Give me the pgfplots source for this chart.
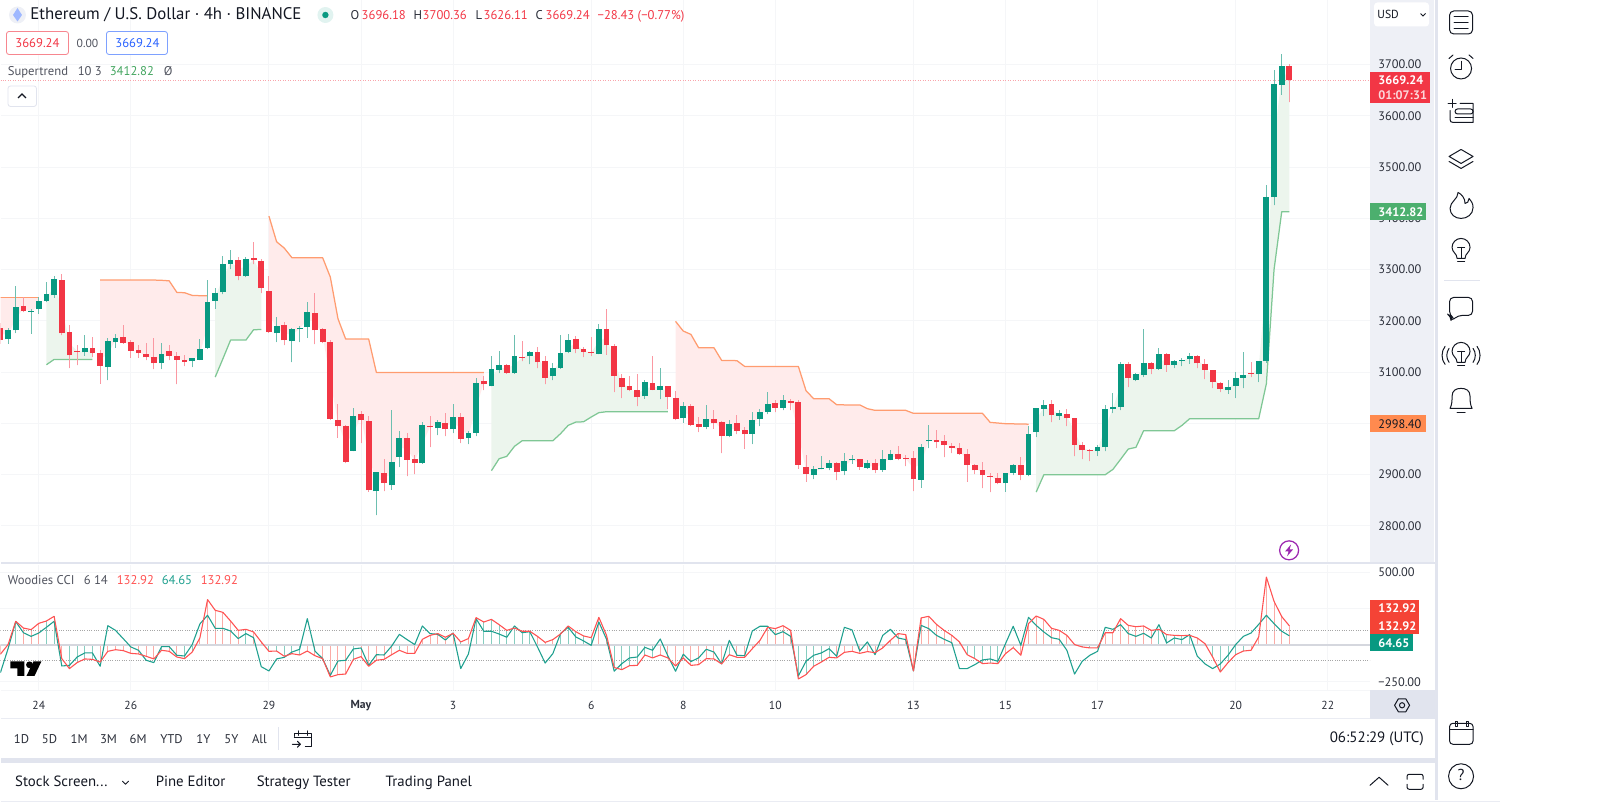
\documentclass[border=0pt]{standalone}
\usepackage{pgfplots}
\pgfplotsset{compat=1.18}
\usepackage{pgfplotstable}
\usepgfplotslibrary{fillbetween}
\usepackage{fontspec}
\setmainfont{PT Sans}
\definecolor{cup}{HTML}{089981}
\definecolor{cdn}{HTML}{F23645}
\definecolor{wup}{HTML}{6DBFB0}
\definecolor{wdn}{HTML}{FB98A2}
\definecolor{stdn}{HTML}{FF9C70}
\definecolor{stup}{HTML}{7FC795}
\definecolor{fdn}{HTML}{FFEBEB}
\definecolor{fup}{HTML}{ECF5ED}
\definecolor{gridc}{HTML}{F5F6F8}
\definecolor{panel}{HTML}{EEF0F6}
\definecolor{strip}{HTML}{E1E4EE}
\definecolor{ink}{HTML}{131722}
\definecolor{txt}{HTML}{2A2E39}
\definecolor{gtxt}{HTML}{50535E}
\definecolor{ccir}{HTML}{FF5252}
\definecolor{ccig}{HTML}{1FA08F}
\definecolor{histr}{HTML}{FBABA6}
\definecolor{histg}{HTML}{86CDC0}
\definecolor{zeroc}{HTML}{D5D7DE}
\definecolor{lgreen}{HTML}{43A55F}
\definecolor{tagg}{HTML}{4CAF6E}
\definecolor{tago}{HTML}{FF8A4F}
\definecolor{tagr}{HTML}{F44336}
\definecolor{purp}{HTML}{9C27B0}
\definecolor{blueb}{HTML}{2962FF}
% i top bot hi lo  (body top, body bottom, wick high, wick low)
\pgfplotstableread{
i top bot hi lo
1 3181.3 3163.8 3185.9 3155.3
2 3226.8 3181.3 3267.1 3176.1
4 3219.7 3217.0 3223.6 3174.8
5 3238.5 3222.3 3246.3 3213.8
6 3251.5 3238.5 3276.2 3236.6
7 3282.0 3249.6 3287.9 3245.0
11 3146.9 3138.4 3171.6 3131.9
14 3159.8 3109.8 3167.0 3083.8
15 3165.7 3159.2 3173.5 3147.5
21 3135.2 3117.0 3157.3 3105.9
25 3126.7 3120.9 3126.7 3109.8
26 3144.3 3124.1 3165.0 3122.8
27 3235.9 3147.5 3278.8 3144.3
28 3254.8 3238.5 3263.9 3223.6
29 3310.0 3255.4 3326.9 3251.5
30 3317.8 3310.0 3337.3 3300.3
32 3321.0 3286.6 3324.3 3285.3
36 3190.4 3175.5 3207.3 3158.5
38 3184.5 3159.8 3186.5 3118.9
39 3186.5 3183.3 3189.1 3158.5
40 3216.4 3187.8 3235.9 3167.0
46 3014.9 2946.6 3029.8 2945.4
49 2904.4 2867.3 2904.4 2820.6
51 2925.2 2879.0 3025.3 2870.6
52 2971.4 2934.3 2984.3 2914.8
55 2997.4 2922.0 3002.5 2921.3
57 3003.2 2990.2 3007.1 2976.6
59 3013.0 2988.9 3038.3 2981.1
61 2981.1 2971.4 2984.3 2959.0
62 3079.2 2981.1 3088.4 2974.6
64 3105.2 3072.1 3130.6 3072.1
65 3113.0 3104.6 3140.3 3098.1
67 3131.9 3097.4 3172.9 3096.8
69 3139.7 3130.6 3141.0 3115.0
72 3108.5 3091.6 3117.6 3083.8
73 3137.1 3108.5 3171.6 3106.6
74 3161.8 3138.4 3174.8 3137.1
78 3183.2 3135.8 3194.3 3134.5
84 3080.5 3052.6 3083.8 3048.1
86 3072.1 3065.6 3107.9 3046.8
89 3033.8 3009.7 3040.9 3000.8
92 3009.0 2993.5 3035.0 2988.3
95 2998.0 2974.6 3005.8 2973.3
98 3005.8 2979.8 3022.0 2959.7
99 3022.7 3009.0 3028.6 2994.1
100 3037.0 3022.0 3061.7 3017.5
102 3044.8 3030.5 3055.9 3025.3
106 2910.3 2899.2 2916.1 2890.7
107 2912.2 2910.3 2936.2 2910.3
108 2922.0 2912.9 2927.8 2908.3
110 2925.9 2906.4 2942.1 2899.2
111 2931.1 2927.8 2938.2 2921.3
113 2922.0 2912.9 2927.8 2911.6
115 2929.8 2909.6 2947.3 2905.7
116 2939.5 2929.1 2947.3 2927.8
120 2954.5 2890.1 2959.0 2874.5
121 2966.8 2964.9 2997.4 2951.2
131 2903.8 2883.0 2903.8 2866.7
132 2918.7 2903.8 2921.3 2899.2
134 2979.8 2899.2 2994.1 2896.6
135 3029.2 2982.4 3030.5 2973.3
136 3035.0 3028.6 3046.1 3014.2
138 3019.4 3014.9 3025.3 3007.1
143 2953.2 2946.0 2957.0 2936.2
144 3027.2 2953.2 3035.0 2945.4
145 3032.4 3027.2 3059.1 3020.1
146 3115.0 3032.4 3119.6 3025.3
148 3095.5 3084.5 3098.1 3082.5
149 3117.6 3094.2 3184.5 3090.3
151 3135.8 3105.9 3147.5 3104.6
153 3121.5 3113.7 3122.8 3107.9
154 3124.1 3120.9 3128.0 3111.1
155 3131.9 3124.8 3137.1 3116.3
160 3071.4 3065.0 3083.8 3057.8
161 3088.4 3072.8 3100.1 3049.4
162 3094.2 3089.0 3139.7 3068.2
164 3120.9 3096.2 3120.9 3080.6
165 3441.3 3120.9 3465.3 3118.0
166 3661.0 3441.3 3690.2 3425.0
167 3696.8 3659.7 3719.5 3640.9
}\upc
\pgfplotstableread{
i top bot hi lo
0 3186.5 3161.8 3195.6 3155.3
3 3229.4 3219.0 3245.7 3217.0
8 3280.1 3175.5 3291.8 3171.6
9 3178.7 3132.6 3192.4 3107.9
10 3141.7 3140.3 3152.0 3113.0
12 3146.9 3137.1 3168.3 3129.3
13 3137.1 3112.4 3143.6 3077.3
16 3167.7 3156.6 3192.4 3155.3
17 3157.9 3141.7 3163.1 3128.0
18 3142.3 3136.5 3153.4 3128.0
19 3135.8 3128.7 3156.6 3122.8
20 3129.3 3117.0 3166.4 3105.3
22 3140.3 3131.2 3153.4 3123.5
23 3131.9 3124.1 3139.0 3076.0
24 3122.8 3120.2 3132.6 3111.8
31 3318.5 3286.6 3324.3 3278.8
33 3321.7 3317.8 3354.2 3310.0
34 3315.9 3263.9 3319.8 3254.1
35 3258.0 3178.0 3286.6 3176.8
37 3191.0 3161.8 3197.6 3152.0
41 3214.5 3181.3 3253.5 3154.0
42 3183.3 3158.5 3185.9 3156.6
43 3158.6 3009.0 3163.1 3007.1
44 3007.1 2994.1 3037.0 2972.0
45 2994.1 2925.2 2997.4 2922.6
47 3017.5 3005.8 3024.0 2961.6
48 3005.2 2869.3 3013.6 2866.7
50 2902.4 2883.6 2931.0 2867.3
53 2970.7 2928.5 2981.7 2896.6
54 2929.8 2923.3 2938.9 2900.5
56 2994.1 2992.8 3013.6 2953.8
58 3000.0 2988.9 3020.8 2974.6
60 3011.6 2970.0 3020.1 2961.6
63 3081.9 3076.0 3092.9 3064.3
66 3114.4 3098.7 3115.0 3096.8
68 3128.6 3127.4 3159.9 3120.9
70 3139.7 3118.9 3148.2 3107.2
71 3122.2 3089.0 3130.6 3076.0
75 3163.8 3144.9 3169.6 3137.1
76 3144.3 3139.7 3148.8 3129.3
77 3139.7 3137.1 3168.3 3131.2
79 3183.2 3152.0 3222.2 3133.9
80 3151.4 3092.9 3155.3 3061.0
81 3087.7 3070.2 3096.8 3049.3
82 3072.1 3064.3 3091.6 3063.0
83 3065.0 3050.6 3096.8 3033.1
85 3079.3 3065.6 3130.6 3064.3
87 3073.4 3051.3 3073.4 3028.6
88 3050.0 3007.8 3063.0 3006.5
90 3033.1 2996.7 3038.3 2995.4
91 2998.0 2993.5 3012.3 2983.1
93 3009.0 2999.9 3025.3 2989.6
94 3001.9 2975.3 3004.5 2941.4
96 2999.9 2985.0 3015.6 2978.5
97 2987.6 2978.5 2992.8 2950.6
101 3039.6 3030.5 3046.1 3021.4
103 3044.2 3039.6 3047.4 3025.3
104 3040.9 2919.4 3046.1 2911.6
105 2914.8 2901.2 2938.9 2886.2
109 2923.3 2904.4 2924.5 2888.8
112 2931.1 2914.8 2931.1 2909.6
114 2922.6 2908.3 2931.1 2903.1
117 2939.5 2930.4 2956.4 2927.8
118 2931.7 2930.4 2938.9 2916.1
119 2933.0 2891.4 2945.4 2868.0
122 2968.1 2962.9 2986.3 2951.9
123 2966.2 2957.7 2977.9 2933.6
124 2955.8 2952.5 2961.6 2941.4
125 2951.2 2939.5 2961.6 2938.9
126 2940.8 2919.4 2949.3 2886.2
127 2918.7 2908.3 2921.3 2900.5
128 2908.3 2899.2 2923.9 2873.2
129 2897.9 2895.3 2903.1 2865.4
130 2893.4 2883.0 2903.1 2881.0
133 2918.1 2899.2 2934.3 2888.8
137 3037.0 3016.2 3044.8 3001.9
139 3017.5 3009.7 3028.6 2994.8
140 3009.7 2958.4 3011.0 2935.6
141 2957.7 2947.3 2962.9 2930.4
142 2948.0 2946.0 2949.3 2926.5
147 3115.6 3089.0 3119.6 3070.8
150 3117.6 3105.2 3120.2 3096.2
152 3135.8 3113.0 3137.8 3100.7
156 3131.2 3116.9 3132.5 3107.2
157 3116.3 3104.6 3124.8 3085.7
158 3104.0 3080.6 3104.6 3068.8
159 3079.2 3066.9 3079.9 3061.0
163 3097.4 3095.5 3118.9 3090.3
168 3696.18 3669.24 3700.36 3626.11
}\dnc
% supertrend segments: i, line value, body midpoint
\pgfplotstableread{
i st m
0 3245.6 3174
1 3245.6 3173
2 3245.6 3204
3 3245.6 3224
4 3245.6 3218
5 3245.6 3230
}\rone
\pgfplotstableread{
i st m
6 3114.3 3245
7 3124.7 3266
8 3124.7 3228
9 3124.7 3156
10 3124.7 3141
11 3124.7 3143
12 3124.7 3142
}\gone
\pgfplotstableread{
i st m
13 3279.5 3125
14 3279.5 3135
15 3279.5 3162
16 3279.5 3162
17 3279.5 3150
18 3279.5 3139
19 3279.5 3132
20 3279.5 3123
21 3279.0 3126
22 3278.0 3136
23 3255.4 3128
24 3254.8 3121
25 3249.6 3124
26 3249.0 3134
27 3249.0 3192
}\rtwo
\pgfplotstableread{
i st m
28 3090.3 3247
29 3126.0 3283
30 3162.4 3314
31 3162.4 3303
32 3162.4 3304
33 3182.6 3320
34 3183.0 3290
}\gtwo
\pgfplotstableread{
i st m
35 3404.2 3218
36 3354.2 3183
37 3341.8 3176
38 3323.0 3172
39 3323.0 3185
40 3323.0 3202
41 3323.0 3198
42 3323.0 3171
43 3285.3 3084
44 3204.0 3001
45 3164.4 2960
46 3164.4 2981
47 3164.4 3012
48 3164.4 2937
49 3099.4 2886
50 3099.4 2893
51 3099.4 2902
52 3099.4 2953
53 3099.4 2950
54 3099.4 2927
55 3099.4 2960
56 3099.4 2993
57 3099.4 2997
58 3099.4 2994
59 3099.4 3001
60 3099.4 2991
61 3099.4 2976
62 3099.4 3030
63 3099.4 3079
}\rthree
\pgfplotstableread{
i st m
64 2907.6 3089
65 2931.0 3109
66 2935.6 3107
67 2955.1 3115
68 2966.0 3128
69 2966.0 3135
70 2966.0 3129
71 2966.0 3106
72 2966.0 3100
73 2979.8 3123
74 2996.0 3150
75 3002.5 3154
76 3003.0 3142
77 3012.3 3138
78 3020.8 3160
79 3022.7 3168
80 3022.7 3122
81 3022.7 3079
82 3022.7 3068
83 3022.7 3058
84 3022.7 3067
85 3022.7 3072
86 3022.7 3069
87 3022.7 3062
}\gthree
\pgfplotstableread{
i st m
88 3198.9 3029
89 3180.0 3022
90 3173.5 3015
91 3147.5 2996
92 3147.5 3001
93 3147.5 3004
94 3122.8 2989
95 3122.8 2986
96 3122.2 2992
97 3111.1 2983
98 3111.1 2993
99 3111.1 3016
100 3111.1 3030
101 3111.1 3035
102 3111.1 3038
103 3111.1 3042
104 3111.1 2980
105 3063.7 2908
106 3048.0 2905
107 3048.0 2911
108 3048.0 2917
109 3036.3 2914
110 3036.0 2916
111 3036.0 2929
112 3036.0 2923
113 3028.6 2917
114 3025.3 2915
115 3025.3 2920
116 3025.3 2934
117 3025.3 2935
118 3025.3 2931
119 3019.5 2912
120 3019.5 2922
121 3019.5 2966
122 3019.5 2965
123 3019.5 2962
124 3019.5 2954
125 3019.5 2945
126 3019.5 2930
127 3019.5 2913
128 3019.5 2904
129 3001.9 2897
130 3000.6 2888
131 2999.3 2893
132 2999.0 2911
133 2998.7 2909
134 2998.4 2940
}\rfour
\pgfplotstableread{
i st m
135 2866.0 3006
136 2899.8 3032
137 2899.8 3027
138 2899.8 3017
139 2899.8 3014
140 2899.8 2984
141 2899.8 2953
142 2899.8 2947
143 2899.8 2950
144 2899.8 2990
145 2910.2 3030
146 2929.8 3074
147 2949.9 3102
148 2953.2 3090
149 2985.6 3106
150 2985.6 3111
151 2985.6 3121
152 2985.6 3124
153 2985.6 3118
154 2996.0 3122
155 3009.0 3128
156 3009.0 3124
157 3009.0 3110
158 3009.0 3092
159 3009.0 3073
160 3009.0 3068
161 3009.0 3081
162 3009.0 3092
163 3009.0 3096
164 3009.0 3109
165 3077.3 3281
166 3300.0 3551
167 3412.82 3678
168 3412.82 3683
}\gfour
% Woodies CCI: i, cci line (and histogram), turbo line, histogram colour flag
\pgfplotstableread{
i r g k
0 -61 -187 0
1 5 -23 0
2 164 162 1
3 118 86 0
4 107 61 0
5 150 84 0
6 166 123 1
7 198 164 1
8 -91 -141 0
9 -159 -137 1
10 -118 -80 1
11 -93 -52 1
12 -96 -52 1
13 -114 -143 0
14 -41 134 0
15 -30 102 0
16 -36 46 0
17 -55 -11 0
18 -59 -34 0
19 -75 -102 0
20 -93 -118 0
21 -34 -9 1
22 -41 -9 0
23 -80 -68 0
24 -91 -73 1
25 -46 5 1
26 50 146 0
27 312 205 0
28 239 116 0
29 225 116 0
30 166 98 0
31 102 46 0
32 109 80 1
33 91 52 0
34 23 -146 0
35 -41 -175 1
36 -39 -93 1
37 -75 -82 1
38 -57 -46 1
39 -66 -27 1
40 -39 182 0
41 -71 -39 0
42 -91 -91 0
43 -216 -205 0
44 -200 -107 0
45 -196 -102 0
46 -96 -25 1
47 -77 -18 0
48 -143 -137 0
49 -102 -64 0
50 -96 -66 0
51 -64 -5 0
52 -34 75 1
53 -55 39 0
54 -55 5 0
55 41 132 0
56 68 80 0
57 80 75 0
58 55 36 0
59 82 84 0
60 23 -159 1
61 46 -59 0
62 189 182 1
63 159 96 1
64 177 96 1
65 141 77 1
66 102 55 1
67 118 132 1
68 96 86 1
69 96 93 1
70 61 -11 0
71 20 -121 0
72 39 -57 0
73 77 80 1
74 132 123 1
75 93 57 1
76 64 30 1
77 52 0 1
78 191 159 0
79 68 41 0
80 -152 -177 1
81 -166 -125 1
82 -139 -86 1
83 -137 -80 1
84 -66 -14 1
85 -86 -34 1
86 -66 43 0
87 -86 -73 0
88 -141 -177 0
89 -86 -61 0
90 -137 -111 0
91 -132 -86 0
92 -91 -27 0
93 -93 -46 0
94 -127 -127 0
95 -64 34 1
96 -82 -68 0
97 -82 -71 0
98 -23 98 0
99 34 130 0
100 123 130 0
101 114 73 0
102 134 93 0
103 102 61 0
104 -230 -209 1
105 -200 -109 1
106 -143 -68 1
107 -114 -52 1
108 -82 -23 1
109 -86 -75 0
110 -48 123 0
111 -41 105 0
112 -55 -39 0
113 -43 23 0
114 -50 -64 0
115 -18 68 0
116 34 109 0
117 80 50 0
118 73 39 0
119 -175 -175 0
120 187 136 0
121 198 114 0
122 143 68 0
123 102 41 0
124 68 18 0
125 23 -159 0
126 -64 -159 1
127 -91 -132 1
128 -125 -100 1
129 -121 -93 1
130 -125 -109 1
131 -57 11 0
132 -16 130 0
133 -68 0 0
134 148 191 0
135 200 136 0
136 177 91 0
137 116 52 0
138 102 41 0
139 68 -34 0
140 5 -196 0
141 -11 -109 1
142 -18 -68 1
143 -18 -41 1
144 86 123 0
145 86 109 0
146 182 141 0
147 136 80 0
148 127 61 0
149 132 82 0
150 102 50 0
151 109 141 1
152 73 16 1
153 68 50 1
154 66 39 1
155 68 73 1
156 50 -75 0
157 11 -127 0
158 -80 -159 1
159 -182 -127 1
160 -118 -68 1
161 -64 5 1
162 -39 61 1
163 -34 84 0
164 57 143 0
165 466 205 0
166 300 148 0
167 196 96 0
168 132.92 64.65 0
}\cci
\pgfplotsset{
  chart/.style={
    scale only axis, width=822pt, xmin=0.013, xmax=178.515,
    axis line style={draw=none}, major tick length=0pt,
    grid=major, grid style={gridc, line width=0.6pt},
    xtick={5,17,35,47,59,77,89,101,119,131,143,161,173},
    yticklabel pos=right, enlargelimits=false,
    yticklabel style={anchor=west, inner sep=0pt, xshift=4.8pt, text=txt, font=\fontsize{7.4pt}{8pt}\selectfont},
  },
  seg/.style={no marks, line width=0.75pt, line join=round},
  nomk/.style={only marks, mark=*, mark size=0pt, mark options={draw=none, fill=none}, forget plot},
}
\newcommand\candles[3]{%
  \addplot[nomk, error bars/.cd, y dir=plus, y explicit, error mark=none,
    error bar style={draw=#2, line width=0.6pt}]
    table[x=i, y=lo, y error plus expr=\thisrow{hi}-\thisrow{lo}] {#1};
  \addplot[nomk, error bars/.cd, y dir=plus, y explicit, error mark=none,
    error bar style={draw=#3, line width=3.5pt}]
    table[x=i, y=bot, y error plus expr=\thisrow{top}-\thisrow{bot}] {#1};
}
\newcommand\segment[4]{%
  \addplot[draw=none, no marks, forget plot, name path=st#1] table[x=i, y=st] {#2};
  \addplot[draw=none, no marks, forget plot, name path=mm#1] table[x=i, y=m] {#2};
  \addplot[#3, forget plot] fill between[of=st#1 and mm#1];
  \addplot[#4, seg, forget plot] table[x=i, y=st] {#2};
}
\newcommand\bulb[2]{%
  \draw[ic] (#1-4,#2+8) .. controls (#1-4,#2+3) and (#1-9,#2+2) .. (#1-9,#2-3) arc[start angle=180, end angle=360, radius=9] .. controls (#1+9,#2+2) and (#1+4,#2+3) .. (#1+4,#2+8) -- cycle;
  \draw[ic] (#1-3.5,#2+11) -- (#1+3.5,#2+11);
  \draw[ic] (#1,#2+8) -- (#1,#2-3) (#1-3.5,#2-3) -- (#1+3.5,#2-3);
}
\begin{document}
\begin{tikzpicture}
\begin{scope}[x=0.6pt, y=-0.6pt]
  \path (0,0) rectangle (1600,804);
  \fill[panel] (1370,0) rectangle (1434,562);
  \fill[strip] (1434.5,0) rectangle (1438,800);
  \fill[strip] (1370,690) rectangle (1434.5,718.5);
  \fill[strip] (0,562) rectangle (1434.5,564);
  \fill[strip] (0,758) rectangle (1434.5,762.5);
  \draw[gridc, line width=0.6pt] (0,690) -- (1370,690);
  \draw[strip!70, line width=0.6pt] (0,718.5) -- (1370,718.5);
  \draw[strip!70, line width=0.6pt] (0,801.5) -- (1500,801.5);
\end{scope}
\begin{axis}[chart, anchor=south west, at={(0pt,-337.2pt)}, height=337.2pt,
  ymin=2728.9, ymax=3824.8, ytick={2800,2900,...,3700},
  yticklabels={2800.00,2900.00,3000.00,3100.00,3200.00,3300.00,3400.00,3500.00,3600.00,3700.00},
  xticklabel=\empty]
  \segment{a}{\rone}{fdn}{stdn}
  \segment{b}{\gone}{fup}{stup}
  \segment{c}{\rtwo}{fdn}{stdn}
  \segment{d}{\gtwo}{fup}{stup}
  \segment{e}{\rthree}{fdn}{stdn}
  \segment{f}{\gthree}{fup}{stup}
  \segment{g}{\rfour}{fdn}{stdn}
  \segment{h}{\gfour}{fup}{stup}
  \draw[densely dotted, cdn!45, line width=0.5pt] (axis cs:0.013,3669.24) -- (axis cs:178.515,3669.24);
  \candles{\upc}{wup}{cup}
  \candles{\dnc}{wdn}{cdn}
\end{axis}
\begin{axis}[chart, anchor=south west, at={(0pt,-414pt)}, height=75pt,
  ymin=-307, ymax=546, ytick={-250,0,250,500},
  yticklabels={−250.00,,,500.00},
  xticklabels={24,26,29,\textbf{May},3,6,8,10,13,15,17,20,22},
  xticklabel style={anchor=center, inner sep=0pt, yshift=-9pt, text=txt, font=\fontsize{7pt}{8pt}\selectfont}]
  \addplot[ycomb, no marks, histg, line width=0.6pt, forget plot] table[x=i, y expr=\thisrow{k}*\thisrow{r}] {\cci};
  \addplot[ycomb, no marks, histr, line width=0.6pt, forget plot] table[x=i, y expr=(1-\thisrow{k})*\thisrow{r}] {\cci};
  \draw[zeroc, line width=1pt] (axis cs:0.013,0) -- (axis cs:178.515,0);
  \draw[densely dotted, gray!70, line width=0.4pt] (axis cs:0.013,100) -- (axis cs:178.515,100);
  \draw[densely dotted, gray!70, line width=0.4pt] (axis cs:0.013,-100) -- (axis cs:178.515,-100);
  \addplot[no marks, ccig, line width=0.65pt, line join=round, forget plot] table[x=i, y=g] {\cci};
  \addplot[no marks, ccir, line width=0.65pt, line join=round, forget plot] table[x=i, y=r] {\cci};
\end{axis}
\begin{scope}[x=0.6pt, y=-0.6pt, font=\fontsize{7.6pt}{9pt}\selectfont, text=txt,
  every node/.style={inner sep=0pt}, tl/.style={anchor=mid west}, tc/.style={anchor=mid},
  ic/.style={draw=ink, line width=0.6pt, line join=round, line cap=round}]
  % header
  \fill[panel] (17,14.5) circle (8.5);
  \fill[blueb!45] (17,7.5) -- (21.5,14.5) -- (17,21) -- (12.5,14.5) -- cycle;
  \fill[cup!12] (325,14.5) circle (8);
  \fill[cup] (325,14.5) circle (3.2);
  \node[tl, font=\fontsize{10.1pt}{11pt}\selectfont, text=ink] at (29.5,14.5) {Ethereum / U.S. Dollar · 4h · BINANCE};
  \node[tl] at (350,14.5) {O};
  \node[tl, text=cdn] at (361,14.5) {3696.18};
  \node[tl] at (413,14.5) {H};
  \node[tl, text=cdn] at (422,14.5) {3700.36};
  \node[tl] at (475,14.5) {L};
  \node[tl, text=cdn] at (483,14.5) {3626.11};
  \node[tl] at (535,14.5) {C};
  \node[tl, text=cdn] at (545,14.5) {3669.24};
  \node[tl, text=cdn] at (597,14.5) {−28.43 (−0.77\%)};
  % last-price boxes
  \draw[cdn!60, fill=white, rounded corners=1.5pt, line width=0.5pt] (6,31) rectangle (68,54);
  \node[tc, text=cdn] at (37,42.5) {3669.24};
  \node[tc, text=gtxt, font=\fontsize{7pt}{8pt}\selectfont] at (87,42.5) {0.00};
  \draw[blueb!60, fill=white, rounded corners=1.5pt, line width=0.5pt] (106,31) rectangle (167,54);
  \node[tc, text=blueb] at (137,42.5) {3669.24};
  \node[tl, text=gtxt] at (7,71) {Supertrend};
  \node[tl, text=gtxt] at (77,71) {10 3};
  \node[tl, text=lgreen] at (109,71) {3412.82};
  \node[tl, text=gtxt] at (163,71) {Ø};
  \draw[strip, fill=white, rounded corners=1.5pt, line width=0.5pt] (7.5,85.5) rectangle (36,106);
  \draw[ink, line width=0.7pt] (17.5,97.5) -- (21.5,93.5) -- (25.5,97.5);
  % price tags
  \fill[white, rounded corners=2pt] (1374,2) rectangle (1429,26);
  \node[tl, text=ink, font=\fontsize{7pt}{8pt}\selectfont] at (1377,14) {USD};
  \draw[ink, line width=0.5pt] (1420.5,13) -- (1423,15.5) -- (1425.5,13);
  \fill[cdn] (1370,72) rectangle (1430,103);
  \node[tl, text=white, font=\bfseries\fontsize{7.4pt}{8pt}\selectfont] at (1378,80) {3669.24};
  \node[tl, text=white!80!cdn, font=\bfseries\fontsize{7.4pt}{8pt}\selectfont] at (1378,95) {01:07:31};
  \fill[tagg] (1370,203) rectangle (1426,220);
  \node[tl, text=white, font=\bfseries\fontsize{7.4pt}{8pt}\selectfont] at (1378,212) {3412.82};
  \fill[tago] (1370,415) rectangle (1426,432);
  \node[tl, text=ink, font=\fontsize{7.4pt}{8pt}\selectfont] at (1378,424) {2998.40};
  \fill[tagr] (1370,599.5) rectangle (1419,634);
  \fill[cup] (1370,634) rectangle (1413,651);
  \node[tl, text=white, font=\bfseries\fontsize{7.4pt}{8pt}\selectfont] at (1378,608.5) {132.92};
  \node[tl, text=white, font=\bfseries\fontsize{7.4pt}{8pt}\selectfont] at (1378,626) {132.92};
  \node[tl, text=white, font=\bfseries\fontsize{7.4pt}{8pt}\selectfont] at (1378,643) {64.65};
  % Woodies legend
  \node[tl, text=gtxt] at (7,580) {Woodies CCI};
  \node[tl, text=gtxt] at (83,580) {6 14};
  \node[tl, text=ccir] at (116,580) {132.92};
  \node[tl, text=ccig] at (161,580) {64.65};
  \node[tl, text=ccir] at (200,580) {132.92};
  % logo
  \fill[black] (10,661) -- (24,661) -- (24,675.7) -- (17,675.7) -- (17,668) -- (10,668) -- cycle;
  \fill[black] (29,664.5) circle (3.4);
  \fill[black] (33,661) -- (41,661) -- (34,675.7) -- (26,675.7) -- cycle;
  % lightning
  \draw[purp, line width=0.75pt] (1289,550) circle (9.5);
  \fill[purp] (1291,544) -- (1285,551) -- (1288.5,551) -- (1287,556) -- (1293,549) -- (1289.5,549) -- cycle;
  % hex settings icon
  \draw[ic] (1394.5,705) -- (1398.3,698.5) -- (1405.7,698.5) -- (1409.5,705) -- (1405.7,711.5) -- (1398.3,711.5) -- cycle;
  \draw[ic] (1402,705) circle (2.6);
  % range row
  \begin{scope}[font=\fontsize{7.6pt}{9pt}\selectfont]
  \node[tc] at (21,739) {1D};
  \node[tc] at (49,739) {5D};
  \node[tc] at (78.6,739) {1M};
  \node[tc] at (108,739) {3M};
  \node[tc] at (137.6,739) {6M};
  \node[tc] at (171,739) {YTD};
  \node[tc] at (203,739) {1Y};
  \node[tc] at (231,739) {5Y};
  \node[tc] at (259,739) {All};
  \end{scope}
  \draw[strip, line width=0.6pt] (278,727) -- (278,750);
  \draw[ic] (294,736) -- (294,733) -- (311,733) -- (311,746.5) -- (305,746.5);
  \draw[ic] (294,737.5) -- (311,737.5) (298,730.5) -- (298,735) (307,730.5) -- (307,735);
  \draw[ic] (292,744) -- (300,744) (297,741) -- (300,744) -- (297,747);
  \node[anchor=mid east, font=\fontsize{9pt}{10pt}\selectfont, text=ink] at (1424,738) {06:52:29 (UTC)};
  % tabs
  \begin{scope}[font=\fontsize{8.9pt}{10pt}\selectfont, text=ink]
  \node[tl] at (14.3,782) {Stock Screen...};
  \node[tl] at (155,782) {Pine Editor};
  \node[tl] at (256,782) {Strategy Tester};
  \node[tl] at (385,782) {Trading Panel};
  \end{scope}
  \draw[ic, line width=0.5pt] (122,781) -- (125,784) -- (128,781);
  \draw[ic] (1370,785) -- (1379,777) -- (1388,785);
  \draw[ic] (1407,779) -- (1407,776) arc[start angle=180, end angle=270, radius=2] -- (1421,774) arc[start angle=270, end angle=360, radius=2] -- (1423,779);
  \draw[ic] (1407,784) -- (1407,787) arc[start angle=180, end angle=90, radius=2] -- (1421,789) arc[start angle=90, end angle=0, radius=2] -- (1423,784);
  % sidebar icons
  \draw[ic, rounded corners=2.5pt] (1449.5,10.5) rectangle (1472.5,33.5);
  \draw[ic] (1454,16) -- (1468,16) (1454,22) -- (1468,22) (1454,28) -- (1468,28);
  \draw[ic] (1461,68) circle (10.5);
  \draw[ic] (1461,61) -- (1461,69) -- (1455,69);
  \draw[ic] (1449,58) -- (1453,54.5) (1473,58) -- (1469,54.5);
  \draw[ic] (1448,103) -- (1456,103) (1452,99) -- (1452,107);
  \draw[ic] (1460,103) -- (1473,103) -- (1473,122) -- (1453,122) .. controls (1451,122) and (1450,121) .. (1450,119) -- (1450,110);
  \draw[ic, rounded corners=1.5pt] (1455,108.5) rectangle (1473,113.5);
  \draw[ic] (1455,117.5) -- (1473,117.5);
  \draw[ic] (1449,156) -- (1461,149) -- (1473,156) -- (1461,163) -- cycle;
  \draw[ic] (1449,161) -- (1461,168) -- (1473,161);
  \draw[ic] (1458,192) .. controls (1458,199) and (1450,201) .. (1450,208) .. controls (1450,214) and (1455,218) .. (1461,218) .. controls (1467,218) and (1473,214) .. (1473,207) .. controls (1473,203) and (1471,200) .. (1469,198) .. controls (1469,201) and (1467,203) .. (1465,203) .. controls (1465,198) and (1462,194) .. (1458,192) -- cycle;
  \bulb{1461}{250}
  \draw[strip, line width=0.6pt] (1444,280) -- (1480,280);
  \draw[ic, rounded corners=2.5pt] (1449.5,297) -- (1472.5,297) -- (1472.5,315) -- (1458,315) -- (1451,321) -- (1451,316) -- (1449.5,315) -- cycle;
  \bulb{1461}{354}
  \draw[ic] (1449,348) .. controls (1446,352) and (1446,358) .. (1449,362);
  \draw[ic] (1445,346) .. controls (1441,351) and (1441,359) .. (1445,364);
  \draw[ic] (1473,348) .. controls (1476,352) and (1476,358) .. (1473,362);
  \draw[ic] (1477,346) .. controls (1481,351) and (1481,359) .. (1477,364);
  \draw[ic] (1450,408) .. controls (1452,404) and (1452,400) .. (1452,396) .. controls (1452,390) and (1456,388) .. (1461,388) .. controls (1466,388) and (1470,390) .. (1470,396) .. controls (1470,400) and (1470,404) .. (1472,408) -- cycle;
  \draw[ic] (1457,412) -- (1465,412);
  \draw[ic, rounded corners=2pt] (1449.5,723) rectangle (1473,744);
  \draw[ic] (1449.5,729) -- (1473,729);
  \draw[ic] (1455,721) rectangle (1457.5,726) (1466,721) rectangle (1468.5,726);
  \draw[ic] (1461,776) circle (12.5);
  \node[tc, text=ink, font=\fontsize{9.5pt}{10pt}\selectfont] at (1461,776) {?};
\end{scope}
\end{tikzpicture}
\end{document}
